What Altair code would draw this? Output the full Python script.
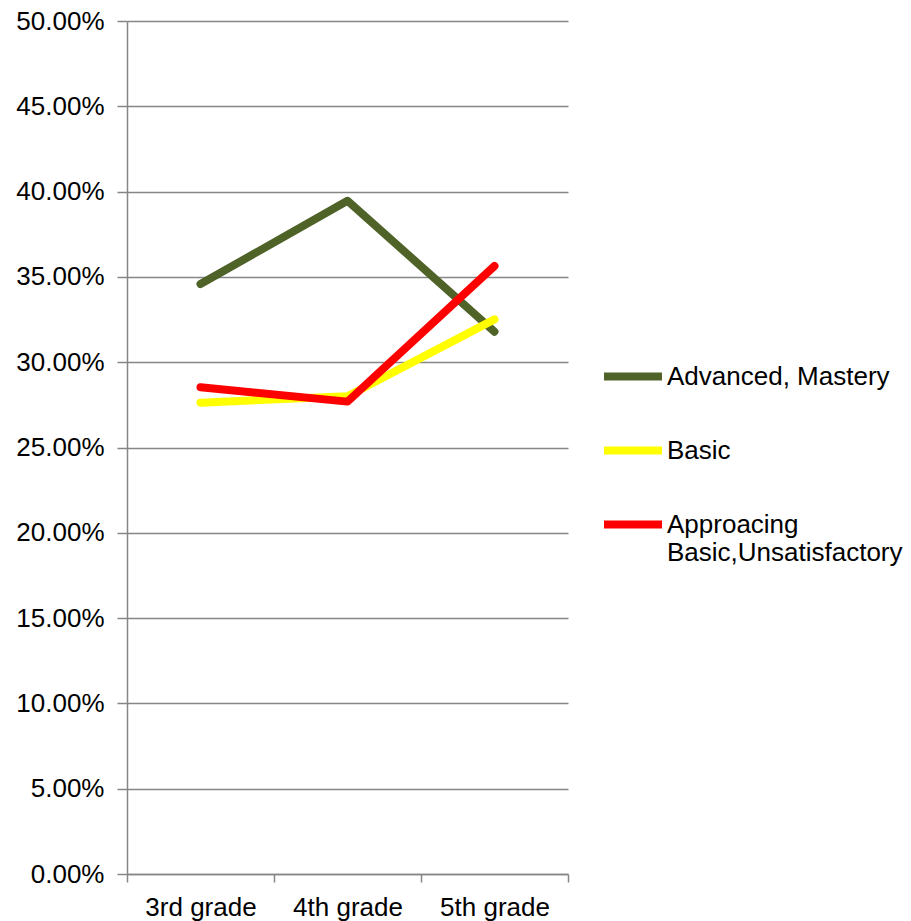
import altair as alt
import pandas as pd

grades = ["3rd grade", "4th grade", "5th grade"]
series = ["Advanced, Mastery", "Basic", "Approacing Basic,Unsatisfactory"]
advanced = [0.3458, 0.3946, 0.3179]
basic = [0.2763, 0.2800, 0.3251]
approaching = [0.2853, 0.2769, 0.3564]
colors = ["#4F6228", "#FFFF00", "#FF0000"]
y_ticks = [0.0, 0.05, 0.10, 0.15, 0.20, 0.25, 0.30, 0.35, 0.40, 0.45, 0.50]

rows = []
for si, (s, vals) in enumerate(zip(series, [advanced, basic, approaching])):
    for g, v in zip(grades, vals):
        rows.append({"grade": g, "series": s, "value": v, "ord": si})
df = pd.DataFrame(rows)

FONT = "Liberation Sans"
GRID = "#868686"

chart = alt.Chart(df).mark_line(
    strokeWidth=8, strokeCap="round", strokeJoin="round"
).encode(
    x=alt.X(
        "grade:N",
        sort=grades,
        scale=alt.Scale(type="band", paddingInner=0, paddingOuter=0),
        axis=alt.Axis(
            title=None, labelAngle=0, tickBand="extent", grid=False,
            tickSize=8, labelPadding=12, labelFontSize=26, labelFont=FONT,
            labelColor="black", domainColor=GRID, tickColor=GRID,
            domainWidth=1.5, tickWidth=1.5,
        ),
    ),
    y=alt.Y(
        "value:Q",
        scale=alt.Scale(domain=[0, 0.5], nice=False, zero=True),
        axis=alt.Axis(
            title=None, format=".2%", values=y_ticks, grid=True,
            gridColor=GRID, gridWidth=1.5, tickSize=10, labelPadding=13,
            labelFontSize=26, labelFont=FONT, labelColor="black",
            domainColor=GRID, tickColor=GRID, domainWidth=1.5, tickWidth=1.5,
        ),
    ),
    color=alt.Color(
        "series:N",
        sort=series,
        scale=alt.Scale(domain=series, range=colors),
        legend=alt.Legend(
            title=None,
            orient="none",
            legendX=473,
            legendY=310,
            direction="vertical",
            symbolType="M -1 0.43 L 1 0.43",
            symbolSize=3364,
            symbolStrokeWidth=8,
            labelFontSize=26,
            labelFont=FONT,
            labelColor="black",
            labelBaseline="top",
            labelOffset=1,
            labelLimit=400,
            rowPadding=12,
            padding=0,
            labelExpr="datum.label == 'Approacing Basic,Unsatisfactory' ? ['Approacing', 'Basic,Unsatisfactory'] : datum.label",
        ),
    ),
    order="ord:Q",
).properties(
    width=441,
    height=853,
    background="white",
    autosize=alt.AutoSizeParams(type="none"),
    padding={"left": 127, "top": 21, "right": 343, "bottom": 47},
).configure_view(stroke="transparent", strokeWidth=0)

chart.save("out.html", embed_options={"renderer": "svg", "actions": False})
